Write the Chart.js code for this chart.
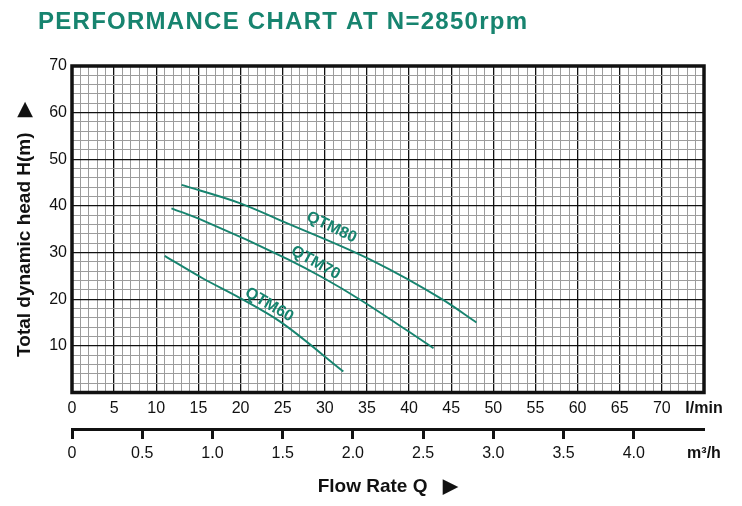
<!DOCTYPE html>
<html><head><meta charset="utf-8">
<script src="https://cdn.jsdelivr.net/npm/chart.js@4.4.0/dist/chart.umd.min.js"></script>
<style>html,body{margin:0;padding:0;background:#fff;}canvas{display:block;}</style>
</head><body>
<canvas id="c" width="742" height="506"></canvas>
<script>
// ---- data ----
const chartTitle = 'PERFORMANCE CHART AT N=2850rpm';
const seriesNames = ['QTM80', 'QTM70', 'QTM60'];
const flowQTM80 = [13.0, 19.9, 25.0, 35.4, 44.0, 48.0];   // l/min
const headQTM80 = [44.5, 40.6, 36.7, 28.5, 19.9, 15.0];   // m
const flowQTM70 = [11.8, 15.5, 25.7, 29.8, 34.2, 42.9];
const headQTM70 = [39.5, 36.9, 28.5, 24.6, 19.9, 9.5];
const flowQTM60 = [11.0, 15.5, 19.9, 24.7, 32.2];
const headQTM60 = [29.3, 24.5, 20.3, 15.2, 4.5];
// label anchors (data coordinates) and text angle
const labelFlow = [30.8, 28.9, 23.4];
const labelHead = [35.4, 27.8, 18.8];
const labelAngle = [25, 29, 30];
// axis ticks
const flowTicksLmin = [0, 5, 10, 15, 20, 25, 30, 35, 40, 45, 50, 55, 60, 65, 70];
const flowTicksM3h = [0, 0.5, 1.0, 1.5, 2.0, 2.5, 3.0, 3.5, 4.0];
const headTicks = [10, 20, 30, 40, 50, 60, 70];
const xUnit = 'l/min';
const x2Unit = 'm³/h';
const yTitle = 'Total dynamic head H(m)';
const xTitle = 'Flow Rate Q';

const TEAL = '#17846f';
const BLACK = '#111';
const MINOR = '#9c9c9c';
const FONT = "'Liberation Sans', Arial, sans-serif";

const flows = [flowQTM80, flowQTM70, flowQTM60];
const heads = [headQTM80, headQTM70, headQTM60];

const datasets = seriesNames.map((n, i) => ({
  label: n,
  data: flows[i].map((q, j) => ({x: q, y: heads[i][j]})),
  borderColor: TEAL,
  borderWidth: 1.9,
  pointRadius: 0,
  fill: false,
  cubicInterpolationMode: 'monotone',
  xAxisID: 'x',
  yAxisID: 'y'
}));

const decor = {
  id: 'decor',
  afterDatasetsDraw(chart) {
    const ctx = chart.ctx;
    const xs = chart.scales.x, ys = chart.scales.y;
    ctx.save();
    ctx.fillStyle = TEAL;
    ctx.font = 'bold 16px ' + FONT;
    ctx.textAlign = 'center';
    ctx.textBaseline = 'middle';
    seriesNames.forEach((n, i) => {
      const px = xs.getPixelForValue(labelFlow[i]);
      const py = ys.getPixelForValue(labelHead[i]);
      ctx.save();
      ctx.translate(px, py);
      ctx.rotate(labelAngle[i] * Math.PI / 180);
      ctx.fillText(n, 0, 0);
      ctx.restore();
    });
    ctx.restore();
  },
  afterDraw(chart) {
    const ctx = chart.ctx;
    const a = chart.chartArea;
    ctx.save();
    ctx.strokeStyle = BLACK;
    ctx.lineWidth = 3.5;
    ctx.strokeRect(a.left, a.top, a.right - a.left, a.bottom - a.top);
    // main title
    ctx.fillStyle = TEAL;
    ctx.font = 'bold 24px ' + FONT;
    ctx.textAlign = 'left';
    ctx.textBaseline = 'alphabetic';
    const w = ctx.measureText(chartTitle).width;
    const target = 489;
    const sp = Math.max(0, (target - w) / (chartTitle.length - 1));
    if ('letterSpacing' in ctx) {
      ctx.letterSpacing = sp + 'px';
      ctx.fillText(chartTitle, 38, 29);
    } else {
      let x = 38;
      for (const ch of chartTitle) { ctx.fillText(ch, x, 29); x += ctx.measureText(ch).width + sp; }
    }
    ctx.restore();
  }
};

new Chart(document.getElementById('c'), {
  type: 'line',
  data: {datasets},
  plugins: [decor],
  options: {
    responsive: false,
    animation: false,
    layout: {padding: {top: 66, right: 38, left: 0, bottom: 0}},
    plugins: {legend: {display: false}, tooltip: {enabled: false}, title: {display: false}},
    scales: {
      x: {
        type: 'linear', position: 'bottom', min: 0, max: 75,
        afterBuildTicks(s) { const t = []; for (let v = 0; v <= 75; v++) t.push({value: v}); s.ticks = t; },
        ticks: {
          autoSkip: false, maxRotation: 0, minRotation: 0, padding: 6, color: BLACK,
          font: (c) => (c.tick && c.tick.value === 75) ? {family: FONT, size: 16, weight: 'bold'} : {family: FONT, size: 16},
          callback: (v) => v === 75 ? xUnit : (flowTicksLmin.includes(v) ? String(v) : '')
        },
        grid: {
          drawTicks: false,
          color: (c) => (c.tick && c.tick.value % 5 === 0) ? BLACK : MINOR,
          lineWidth: (c) => (c.tick && c.tick.value % 5 === 0) ? 1.3 : 1
        },
        border: {display: false},
        afterFit(s) { s.height = 36.5; }
      },
      x2: {
        type: 'linear', position: 'bottom', min: 0, max: 4.5,
        afterBuildTicks(s) { s.ticks = flowTicksM3h.concat([4.5]).map(v => ({value: v})); },
        ticks: {
          autoSkip: false, maxRotation: 0, minRotation: 0, padding: 5, color: BLACK,
          font: (c) => (c.tick && c.tick.value === 4.5) ? {family: FONT, size: 16, weight: 'bold'} : {family: FONT, size: 16},
          callback: (v) => v === 4.5 ? x2Unit : (v === 0 ? '0' : v.toFixed(1))
        },
        grid: {
          drawOnChartArea: false, drawTicks: true, tickLength: 10, tickWidth: 3,
          tickColor: (c) => (c.tick && c.tick.value === 4.5) ? 'rgba(0,0,0,0)' : BLACK
        },
        border: {display: true, color: BLACK, width: 3},
        title: {display: true, text: xTitle + '   ▶', color: BLACK, font: {family: FONT, size: 19, weight: 'bold'}, padding: {top: 0, bottom: 8}},
        afterFit(s) { s.height = 77; }
      },
      y: {
        type: 'linear', position: 'left', min: 0, max: 70,
        afterBuildTicks(s) { const t = []; for (let v = 0; v <= 70; v += 2) t.push({value: v}); s.ticks = t; },
        ticks: {
          autoSkip: false, padding: 5, color: BLACK, font: {family: FONT, size: 16},
          callback: (v) => headTicks.includes(v) ? String(v) : ''
        },
        grid: {
          drawTicks: false,
          color: (c) => (c.tick && c.tick.value % 10 === 0) ? BLACK : MINOR,
          lineWidth: (c) => (c.tick && c.tick.value % 10 === 0) ? 1.3 : 1
        },
        border: {display: false},
        title: {display: true, text: yTitle + '   ▶', color: BLACK, font: {family: FONT, size: 19, weight: 'bold'}, padding: {top: 13, bottom: 0}},
        afterFit(s) { s.width = 72; }
      }
    }
  }
});
</script>
</body></html>
